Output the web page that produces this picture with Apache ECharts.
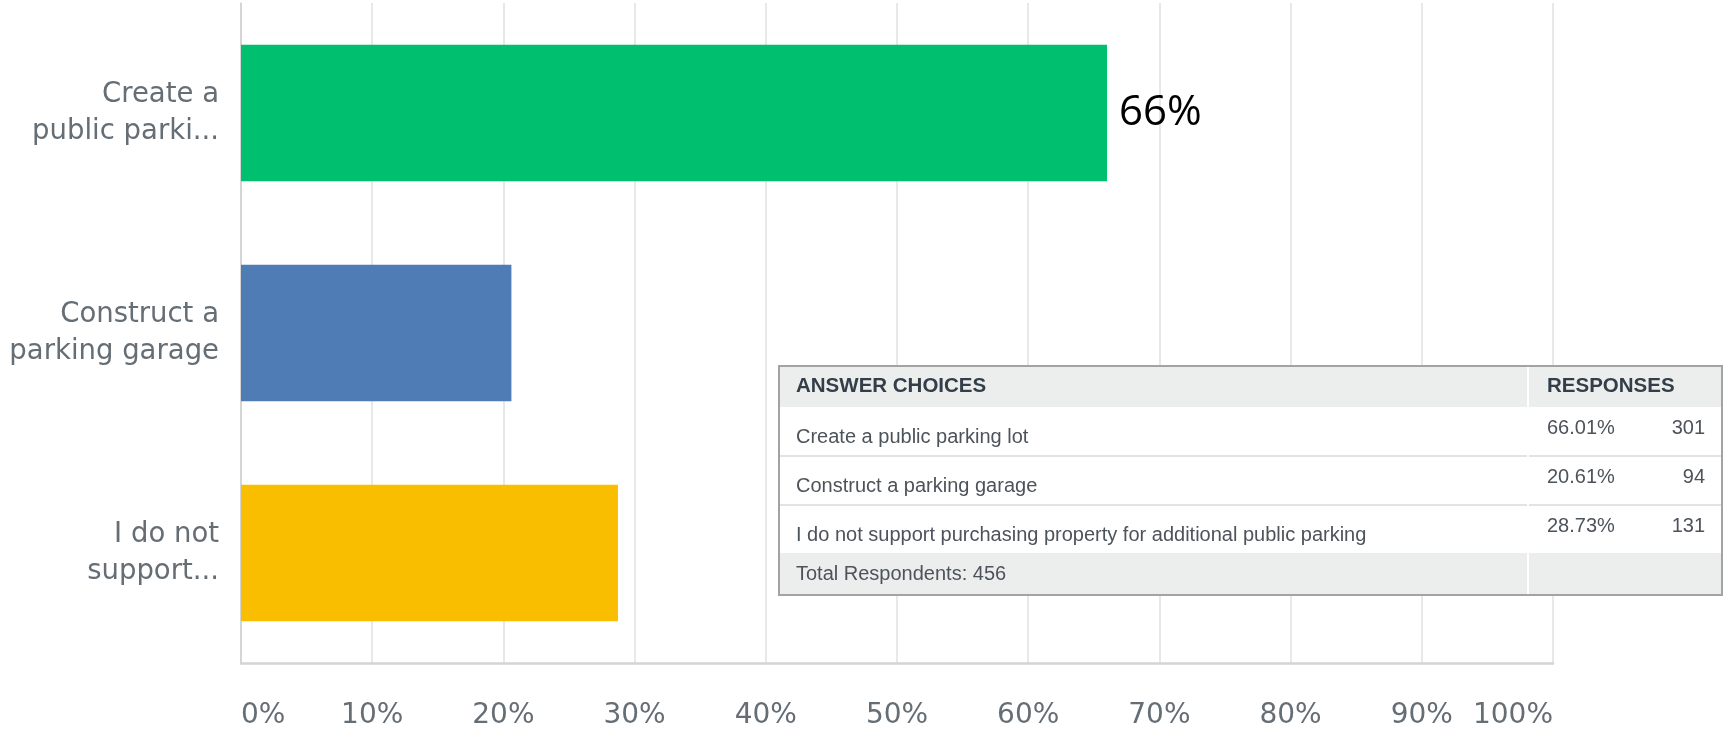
<!DOCTYPE html>
<html>
<head>
<meta charset="utf-8">
<script src="https://cdn.jsdelivr.net/npm/echarts@6/dist/echarts.min.js"></script>
<style>
  html, body { margin: 0; padding: 0; background: #fff; }
  #chart { width: 1725px; height: 730px; }
</style>
</head>
<body>
<div id="chart"></div>
<script>
// ── Data ───────────────────────────────────────────────
const categories     = ['Create a\npublic parki...', 'Construct a\nparking garage', 'I do not\nsupport...'];
const percentValues  = [66.01, 20.61, 28.73];
const answerChoices  = [
  'Create a public parking lot',
  'Construct a parking garage',
  'I do not support purchasing property for additional public parking',
];
const responseCounts   = [301, 94, 131];
const totalRespondents = 456;
const labelledBars     = [0];   // only the first bar carries a value label

// ── Style ──────────────────────────────────────────────
const BAR_COLORS = ['#00BF6F', '#507CB6', '#F9BE00'];
const AXIS_TEXT  = '#656e75';
const AXIS_FONT  = "'DejaVu Sans', sans-serif";
const TABLE_FONT = "'Liberation Sans', Arial, sans-serif";

// ── Table layout (px) ──────────────────────────────────
const T = {
  left: 779, right: 1722, top: 366, bottom: 595,
  headerBottom: 407, footerTop: 553,
  rowTops: [407, 456, 505],
  divider: 1528, textX: 796, pctX: 1547, countX: 1705,
};

const chart = echarts.init(document.getElementById('chart'));

function buildTable() {
  const els = [];
  const w = T.right - T.left;
  const h = T.bottom - T.top;

  // white body so gridlines stay behind the table
  els.push({ type: 'rect', shape: { x: T.left, y: T.top, width: w, height: h },
             style: { fill: '#ffffff' } });
  els.push({ type: 'rect', shape: { x: T.left, y: T.top, width: w, height: T.headerBottom - T.top },
             style: { fill: '#eceeee' } });
  els.push({ type: 'rect', shape: { x: T.left, y: T.footerTop, width: w, height: T.bottom - T.footerTop },
             style: { fill: '#eceeee' } });

  // row separators
  [T.rowTops[1], T.rowTops[2]].forEach(y => {
    els.push({ type: 'line', shape: { x1: T.left, y1: y, x2: T.right, y2: y },
               style: { stroke: '#e2e4e4', lineWidth: 2 } });
  });

  // column divider
  els.push({ type: 'line', shape: { x1: T.divider, y1: T.top, x2: T.divider, y2: T.bottom },
             style: { stroke: '#ffffff', lineWidth: 2 } });

  // outer border
  els.push({ type: 'rect', shape: { x: T.left, y: T.top, width: w, height: h },
             style: { fill: 'none', stroke: '#a3a3a3', lineWidth: 2 } });

  const txt = (text, x, y, opts = {}) => ({
    type: 'text',
    style: Object.assign({
      text, x, y,
      font: '20px ' + TABLE_FONT,
      fill: '#4d535a',
      textAlign: 'left',
      textVerticalAlign: 'middle',
    }, opts),
  });

  const headerMid = (T.top + T.headerBottom) / 2;
  els.push(txt('ANSWER CHOICES', T.textX, headerMid, { font: 'bold 20.5px ' + TABLE_FONT, fill: '#333e48' }));
  els.push(txt('RESPONSES', T.pctX, headerMid, { font: 'bold 20.5px ' + TABLE_FONT, fill: '#333e48' }));

  answerChoices.forEach((label, i) => {
    const top = T.rowTops[i];
    els.push(txt(label, T.textX, top + 30));
    els.push(txt(percentValues[i].toFixed(2) + '%', T.pctX, top + 21));
    els.push(txt(String(responseCounts[i]), T.countX, top + 21, { textAlign: 'right' }));
  });

  els.push(txt('Total Respondents: ' + totalRespondents, T.textX, (T.footerTop + T.bottom) / 2));

  return els.map(el => Object.assign(el, { z: 100 }));
}

chart.setOption({
  backgroundColor: '#ffffff',
  animation: false,
  grid: { left: 241, right: 172, top: 3, bottom: 67, containLabel: false },

  xAxis: {
    type: 'value',
    min: 0,
    max: 100,
    interval: 10,
    axisLine:  { show: true, lineStyle: { color: '#d4d4d4', width: 2.5 } },
    axisTick:  { show: false },
    splitLine: { show: true, lineStyle: { color: '#e8e8e8', width: 2 } },
    axisLabel: {
      formatter: '{value}%',
      fontFamily: AXIS_FONT,
      fontSize: 28,
      color: AXIS_TEXT,
      margin: 39,
      alignMinLabel: 'left',
      alignMaxLabel: 'right',
    },
  },

  yAxis: {
    type: 'category',
    inverse: true,
    data: categories,
    axisLine:  { show: true, lineStyle: { color: '#cfcfcf', width: 1.5 } },
    axisTick:  { show: false },
    axisLabel: {
      fontFamily: AXIS_FONT,
      fontSize: 27.5,
      lineHeight: 37,
      color: AXIS_TEXT,
      margin: 22,
      align: 'right',
      padding: [4, 0, 0, 0],
    },
  },

  series: [{
    type: 'bar',
    barCategoryGap: '38%',
    data: percentValues.map((v, i) => ({
      value: v,
      itemStyle: { color: BAR_COLORS[i] },
      label: {
        show: labelledBars.includes(i),
        position: 'right',
        distance: 12,
        fontFamily: "'Open Sans', sans-serif",
        fontSize: 42,
        color: '#000000',
        formatter: p => Math.round(p.value) + '%',
      },
    })),
    emphasis: { disabled: true },
  }],

  graphic: buildTable(),
});
</script>
</body>
</html>
